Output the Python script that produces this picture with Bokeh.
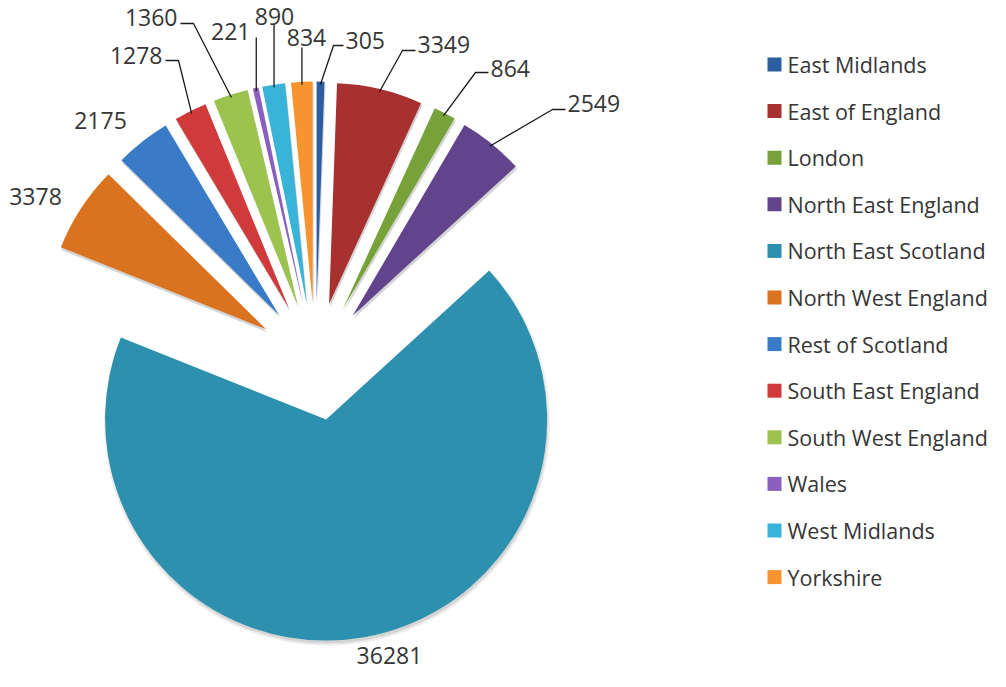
import numpy as np
from bokeh.plotting import figure
from bokeh.models import ColumnDataSource, Range1d
from bokeh.core.properties import value
from bokeh.embed import file_html
from bokeh.resources import INLINE

# ---- data ----
regions = ["East Midlands", "East of England", "London", "North East England",
           "North East Scotland", "North West England", "Rest of Scotland",
           "South East England", "South West England", "Wales", "West Midlands",
           "Yorkshire"]
counts = [305, 3349, 864, 2549, 36281, 3378, 2175, 1278, 1360, 221, 890, 834]
colors = ["#2C5D9F", "#A8302F", "#77A23A", "#62448C", "#2C90AE", "#D9731F",
          "#3A7BC8", "#D13A3A", "#9BC34D", "#8B5FBF", "#3AB3D8", "#F79430"]

# ---- layout (screen pixels) ----
W, H = 990, 671
CX, CY = 315, 361        # pie centre
R = 221                  # pie radius
EXPLODE = 59             # explosion distance
FONT = "Open Sans"
TXT = "#363636"

# label layout: text anchor, alignment, leader elbow
label_layout = [
    dict(x=345, y=40, align="left", elbow=(333, 45), hend=343),
    dict(x=417, y=44, align="left", elbow=(402, 50), hend=415),
    dict(x=490, y=68, align="left", elbow=(475, 72), hend=488),
    dict(x=567, y=103, align="left", elbow=(552, 109), hend=565),
    dict(x=389, y=655, align="center"),
    dict(x=35, y=196, align="center"),
    dict(x=100, y=120, align="center"),
    dict(x=162, y=55, align="right", elbow=(178, 60), hend=165),
    dict(x=177, y=17, align="right", elbow=(193, 23), hend=180),
    dict(x=250, y=31, align="right", vtop=37),
    dict(x=274, y=16, align="center", vtop=24),
    dict(x=306, y=37, align="center", vtop=47),
]

vals = np.array(counts, dtype=float)
frac = vals / vals.sum()
t_end = np.cumsum(frac) * 2 * np.pi          # clockwise from 12 o'clock
t_start = t_end - frac * 2 * np.pi
t_mid = (t_start + t_end) / 2

cx = CX + EXPLODE * np.sin(t_mid)
cy = -CY + EXPLODE * np.cos(t_mid)

src = ColumnDataSource(dict(
    x=cx, y=cy,
    start=np.pi / 2 - t_start, end=np.pi / 2 - t_end,
    color=colors, region=regions,
))
shadow = ColumnDataSource(dict(
    x=cx + 1, y=cy - 3,
    start=np.pi / 2 - t_start, end=np.pi / 2 - t_end,
))

p = figure(width=W, height=H, x_range=Range1d(0, W), y_range=Range1d(-H, 0),
           output_backend="svg", toolbar_location=None, min_border=0,
           x_axis_location=None, y_axis_location=None)
p.grid.visible = False
p.outline_line_color = None
p.background_fill_color = "white"
p.border_fill_color = "white"

p.wedge(x="x", y="y", radius=R + 2, start_angle="start", end_angle="end",
        direction="clock", source=shadow, fill_color="#000000", fill_alpha=0.07,
        line_color=None)
p.wedge(x="x", y="y", radius=R, start_angle="start", end_angle="end",
        direction="clock", source=shadow, fill_color="#000000", fill_alpha=0.10,
        line_color=None)
p.wedge(x="x", y="y", radius=R, start_angle="start", end_angle="end",
        direction="clock", source=src, fill_color="color", line_color=None)

# ---- data labels & leader lines ----
lx, ly, lt, la = [], [], [], []
lines_x, lines_y = [], []
for i, lay in enumerate(label_layout):
    lx.append(lay["x"]); ly.append(-lay["y"]); lt.append(str(counts[i])); la.append(lay["align"])
    ax = cx[i] + (R - 3) * np.sin(t_mid[i])
    ay = cy[i] + (R - 3) * np.cos(t_mid[i])
    if "elbow" in lay:
        ex, ey = lay["elbow"]
        lines_x.append([ax, ex, lay["hend"]])
        lines_y.append([ay, -ey, -ey])
    elif "vtop" in lay:
        lines_x.append([ax, ax])
        lines_y.append([ay, -lay["vtop"]])

p.multi_line(xs=lines_x, ys=lines_y, line_color="#1a1a1a", line_width=1.3)

for al in ("left", "center", "right"):
    idx = [k for k in range(len(la)) if la[k] == al]
    if not idx:
        continue
    p.text(x=[lx[k] for k in idx], y=[ly[k] for k in idx], text=[lt[k] for k in idx],
           text_align=al, text_baseline="middle", text_font=value(FONT),
           text_font_size="23px", text_color=TXT)

# ---- legend ----
LEG_X, LEG_Y0, LEG_DY, SW = 774, 64, 46.6, 14
leg = ColumnDataSource(dict(
    x=[LEG_X] * len(regions),
    y=[-(LEG_Y0 + k * LEG_DY) for k in range(len(regions))],
    tx=[LEG_X + 13] * len(regions),
    color=colors, region=regions,
))
p.rect(x="x", y="y", width=SW, height=SW, source=leg, fill_color="color", line_color=None)
p.text(x="tx", y="y", text="region", source=leg, text_baseline="middle",
       text_font=value(FONT), text_font_size="21.5px", text_color=TXT)

open("out.html", "w").write(file_html(p, INLINE))
